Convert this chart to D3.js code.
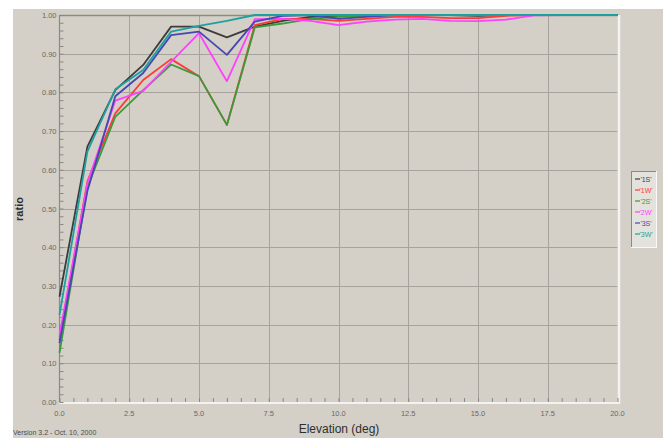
<!DOCTYPE html>
<html>
<head>
<meta charset="utf-8">
<script src="https://cdn.jsdelivr.net/npm/d3@7"></script>
<style>
  html, body { margin: 0; padding: 0; background: #ffffff; }
  svg { display: block; font-family: "Liberation Sans", Arial, sans-serif; }
</style>
</head>
<body>
<svg id="chart" width="663" height="438"></svg>
<script>
// Elevation angles (deg)
const elevations = [0,1,2,3,4,5,6,7,8,9,10,11,12,13,14,15,16,17,18,19,20];

// Ratio for each series at each elevation
const series1S = [0.272,0.660,0.806,0.871,0.970,0.970,0.942,0.970,0.985,0.995,0.997,1.000,1.000,1.000,1.000,0.998,1.000,1.000,1.000,1.000,1.000];
const series1W = [0.160,0.570,0.746,0.832,0.886,0.842,0.716,0.974,0.990,0.990,0.985,0.990,0.995,0.995,0.992,0.992,0.998,1.000,1.000,1.000,1.000];
const series2S = [0.127,0.555,0.737,0.806,0.872,0.842,0.716,0.968,0.978,0.990,0.995,0.998,1.000,1.000,1.000,1.000,1.000,1.000,1.000,1.000,1.000];
const series2W = [0.173,0.565,0.779,0.804,0.879,0.953,0.829,0.989,0.990,0.985,0.974,0.983,0.988,0.990,0.985,0.984,0.988,0.999,1.000,1.000,1.000];
const series3S = [0.152,0.545,0.790,0.850,0.948,0.957,0.897,0.983,0.998,1.000,0.990,0.995,1.000,1.000,1.000,1.000,1.000,1.000,1.000,1.000,1.000];
const series3W = [0.225,0.647,0.808,0.858,0.957,0.972,0.985,1.000,1.000,1.000,1.000,1.000,1.000,1.000,1.000,1.000,1.000,1.000,1.000,1.000,1.000];

const seriesNames  = ["'1S'", "'1W'", "'2S'", "'2W'", "'3S'", "'3W'"];
const seriesValues = [series1S, series1W, series2S, series2W, series3S, series3W];
const seriesColors = ["#3c3c3c", "#ff3a3a", "#3a9a3a", "#ff40ff", "#4646b4", "#1fa0a0"];

const xTicks = [0, 2.5, 5, 7.5, 10, 12.5, 15, 17.5, 20];
const yTicks = [0, 0.1, 0.2, 0.3, 0.4, 0.5, 0.6, 0.7, 0.8, 0.9, 1.0];

const svg = d3.select("#chart");
const W = 663, H = 438;
const panel = "#d4d0c8";

// window background: white margin strip at top/left, grey panel elsewhere
svg.append("rect").attr("width", W).attr("height", H).attr("fill", "#ffffff");
svg.append("rect").attr("x", 13).attr("y", 9).attr("width", W - 13).attr("height", H - 9).attr("fill", panel);

const x = d3.scaleLinear().domain([0, 20]).range([59.5, 617.5]);
const y = d3.scaleLinear().domain([0, 1]).range([402, 15]);

// grid
const grid = svg.append("g").attr("stroke", "#a6a39c").attr("stroke-width", 1);
grid.selectAll("line.v").data(xTicks.slice(1, -1)).join("line")
  .attr("x1", d => Math.round(x(d)) + 0.5).attr("x2", d => Math.round(x(d)) + 0.5)
  .attr("y1", y(1)).attr("y2", y(0));
grid.selectAll("line.h").data(yTicks.slice(1, -1)).join("line")
  .attr("y1", d => Math.round(y(d)) + 0.5).attr("y2", d => Math.round(y(d)) + 0.5)
  .attr("x1", x(0)).attr("x2", x(20));

// sunken frame: dark top/left, light bottom/right
svg.append("line").attr("x1", x(0)).attr("x2", x(20) + 2).attr("y1", y(1) + 0.5).attr("y2", y(1) + 0.5)
  .attr("stroke", "#8c8a85").attr("stroke-width", 1.5);
svg.append("line").attr("x1", x(0)).attr("x2", x(0)).attr("y1", y(1)).attr("y2", y(0))
  .attr("stroke", "#8c8a85").attr("stroke-width", 1.2);
svg.append("line").attr("x1", x(0)).attr("x2", x(20) + 2).attr("y1", y(0) + 1).attr("y2", y(0) + 1)
  .attr("stroke", "#f4f3f0").attr("stroke-width", 2);
svg.append("line").attr("x1", x(20) + 1.5).attr("x2", x(20) + 1.5).attr("y1", y(1)).attr("y2", y(0) + 2)
  .attr("stroke", "#f4f3f0").attr("stroke-width", 2.5);

// axes with inward ticks
const xAxis = d3.axisBottom(x).tickValues(d3.range(0, 20.01, 0.5)).tickSize(-4).tickFormat(() => "");
const gx = svg.append("g").attr("transform", `translate(0,${y(0)})`).call(xAxis);
gx.select(".domain").remove();
gx.selectAll(".tick line").attr("stroke", "#8a8883");

const yAxis = d3.axisLeft(y).tickValues(d3.range(0, 1.001, 0.02)).tickSize(-4).tickFormat(() => "");
const gy = svg.append("g").attr("transform", `translate(${x(0)},0)`).call(yAxis);
gy.select(".domain").remove();
gy.selectAll(".tick line").attr("stroke", "#8a8883");

// tick labels
const lab = svg.append("g").attr("fill", "#6a6864").attr("font-size", 7.5);
lab.selectAll("text.x").data(xTicks).join("text")
  .attr("x", d => x(d)).attr("y", y(0) + 14).attr("text-anchor", "middle")
  .text(d => d3.format(".1f")(d));
lab.selectAll("text.y").data(yTicks).join("text")
  .attr("x", x(0) - 3).attr("y", d => y(d) + 3).attr("text-anchor", "end")
  .text(d => d3.format(".2f")(d));

// axis titles
svg.append("text").attr("x", 339).attr("y", 433).attr("text-anchor", "middle")
  .attr("font-size", 12).attr("fill", "#2e2e2e").text("Elevation (deg)");
svg.append("text").attr("transform", "translate(23,209) rotate(-90)").attr("text-anchor", "middle")
  .attr("font-size", 11).attr("font-weight", "bold").attr("fill", "#2e2e2e").text("ratio");
svg.append("text").attr("x", 13).attr("y", 435).attr("font-size", 7)
  .attr("fill", "#4a4a4a").text("Version 3.2 - Oct. 10, 2000");

// series lines
const line = d3.line().x((d, i) => x(elevations[i])).y(d => y(d));
svg.append("g").attr("fill", "none").attr("stroke-width", 1.8).attr("stroke-linejoin", "round")
  .selectAll("path").data(seriesValues).join("path")
  .attr("stroke", (d, i) => seriesColors[i]).attr("d", line);

// legend
const lg = svg.append("g").attr("transform", "translate(631,171)");
lg.append("rect").attr("x", 0.5).attr("y", 0.5).attr("width", 25).attr("height", 76)
  .attr("fill", "#e4e2dc").attr("stroke", "#8c8a85");
lg.append("line").attr("x1", 25.5).attr("x2", 25.5).attr("y1", 0).attr("y2", 77).attr("stroke", "#f8f8f6");
lg.append("line").attr("x1", 0).attr("x2", 26).attr("y1", 76.5).attr("y2", 76.5).attr("stroke", "#f8f8f6");
const items = lg.selectAll("g.item").data(seriesNames).join("g")
  .attr("transform", (d, i) => `translate(0,${10 + i * 11})`);
items.append("line").attr("x1", 4).attr("x2", 9).attr("y1", -2).attr("y2", -2)
  .attr("stroke", (d, i) => seriesColors[i]).attr("stroke-width", 1.2);
items.append("text").attr("x", 15).attr("y", 1).attr("text-anchor", "middle")
  .attr("font-size", 7).attr("fill", (d, i) => seriesColors[i]).text(d => d);
</script>
</body>
</html>
